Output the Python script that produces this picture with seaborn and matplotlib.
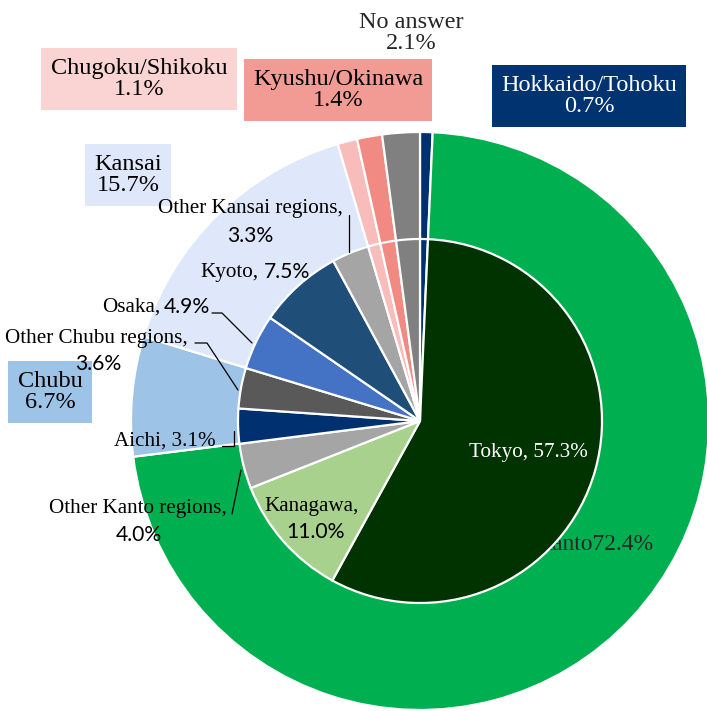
import matplotlib.pyplot as plt
import seaborn as sns

# outer ring: regions
regions = ['Hokkaido/Tohoku', 'Kanto', 'Chubu', 'Kansai',
           'Chugoku/Shikoku', 'Kyushu/Okinawa', 'No answer']
region_pct = [0.7, 72.4, 6.7, 15.7, 1.1, 1.4, 2.1]
region_colors = ['#003070', '#00B050', '#9DC3E6', '#DEE8FA',
                 '#F8BDBA', '#F08A82', '#808080']

# inner pie: prefectures
subs = ['Hokkaido/Tohoku', 'Tokyo', 'Kanagawa', 'Other Kanto regions',
        'Aichi', 'Other Chubu regions', 'Osaka', 'Kyoto',
        'Other Kansai regions', 'Chugoku/Shikoku', 'Kyushu/Okinawa', 'No answer']
sub_pct = [0.7, 57.3, 11.0, 4.0, 3.1, 3.6, 4.9, 7.5, 3.3, 1.1, 1.4, 2.1]
sub_colors = ['#003070', '#003300', '#A9D18E', '#A5A5A5',
              '#003070', '#595959', '#4472C4', '#1F4E79',
              '#A5A5A5', '#F8BDBA', '#F08A82', '#808080']

sns.set_style('white')
SERIF = ['Liberation Serif', 'DejaVu Serif']
SANS = ['Lato', 'DejaVu Sans']
plt.rcParams['font.family'] = SERIF

W, H = 707, 711
fig = plt.figure(figsize=(W / 100, H / 100), dpi=100)
ax = fig.add_axes([0, 0, 1, 1])

def P(x, y):
    # pixel position -> data position
    return x, H - y

center = P(420, 421)
edge = dict(edgecolor='white', linewidth=1.6)

ax.pie(region_pct, radius=289, center=center, startangle=90,
       counterclock=False, colors=region_colors,
       wedgeprops=dict(zorder=1, **edge))

# Kanto label sits under the inner pie
ax.text(*P(594, 545), 'Kanto72.4%', fontsize=17, ha='center', va='center',
        zorder=1.5)

inner, _ = ax.pie(sub_pct, radius=182, center=center, startangle=90,
                  counterclock=False, colors=sub_colors,
                  wedgeprops=edge)
for w in inner:
    w.set_zorder(2)

ax.set_xlim(0, W)
ax.set_ylim(0, H)
ax.set_aspect('equal')
ax.axis('off')

# region labels with boxes
def box_label(x, y, text, fc, tc='black'):
    ax.text(*P(x, y), text, fontsize=17.5, ha='center', va='center',
            color=tc, linespacing=1.05, zorder=5,
            bbox=dict(boxstyle='square,pad=0.38', fc=fc, ec='none'))

box_label(139, 79, 'Chugoku/Shikoku\n1.1%', '#FAD4D2')
box_label(338, 90, 'Kyushu/Okinawa\n1.4%', '#F19B94')
box_label(589, 96, 'Hokkaido/Tohoku\n0.7%', '#003370', 'white')
box_label(128, 175, 'Kansai\n15.7%', '#DEE8FA')
box_label(50, 392, 'Chubu\n6.7%', '#9DC3E6')
ax.text(*P(411, 33), 'No answer\n2.1%', fontsize=17.5, ha='center',
        va='center', linespacing=1.05, zorder=5)

# inner labels: serif names, sans numbers
fs = 15.2
def t(x, y, s, fam=SERIF, ha='center', color='black'):
    ax.text(*P(x, y), s, fontsize=fs, ha=ha, va='center', family=fam,
            color=color, zorder=5)

t(250, 209, 'Other Kansai regions,')
t(250, 236, '3.3%', SANS)
t(259, 272, 'Kyoto,', ha='right')
t(264, 272, '7.5%', SANS, ha='left')
t(160, 307, 'Osaka,', ha='right')
t(164, 307, '4.9%', SANS, ha='left')
t(96, 339, 'Other Chubu regions,')
t(98, 364, '3.6%', SANS)
t(165, 441, 'Aichi, 3.1%')
t(138, 509, 'Other Kanto regions,')
t(139, 535, '4.0%', SANS)
t(312, 506, 'Kanagawa,')
t(316, 532, '11.0%', SANS)
t(528, 452, 'Tokyo, 57.3%', color='white')

# leader lines
def leader(*pts):
    xs = [p[0] for p in pts]
    ys = [H - p[1] for p in pts]
    ax.plot(xs, ys, color='black', lw=0.9, zorder=5)

leader((349, 215), (349, 252))
leader((212, 313), (222, 313), (252, 343))
leader((195, 343), (207, 343), (238, 390))
leader((222, 446), (234, 446), (234, 431))
leader((232, 514), (241, 470))

fig.savefig('out.png', dpi=100)
